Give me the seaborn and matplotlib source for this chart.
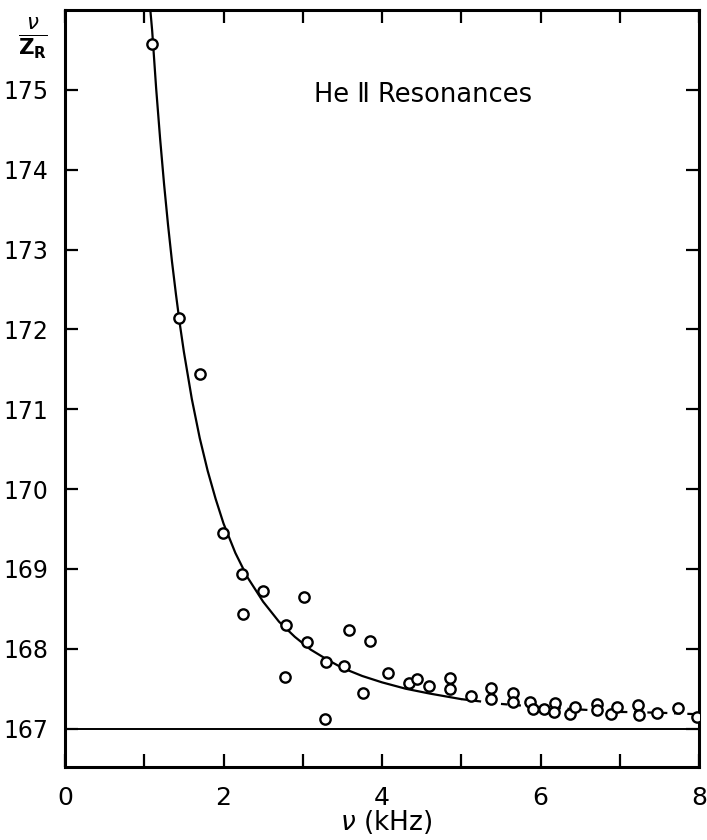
import matplotlib
matplotlib.use("Agg")
import matplotlib.pyplot as plt
import seaborn as sns
import pandas as pd

# measured resonance points (frequency kHz, nu/Z_R)
freq_khz = [1.10, 1.44, 1.70, 1.99, 2.23, 2.25, 2.50, 2.79, 2.78, 3.01, 3.05, 3.29, 3.28,
            3.52, 3.58, 3.76, 3.85, 4.07, 4.34, 4.44, 4.59, 4.86, 4.86, 5.12, 5.38, 5.37,
            5.65, 5.65, 5.87, 5.91, 6.04, 6.18, 6.17, 6.37, 6.44, 6.71, 6.71, 6.89, 6.97,
            7.23, 7.24, 7.47, 7.73, 7.97]
ratio = [175.58, 172.14, 171.44, 169.45, 168.94, 168.43, 168.73, 168.30, 167.65, 168.65,
         168.09, 167.83, 167.12, 167.78, 168.23, 167.45, 168.10, 167.70, 167.57, 167.62,
         167.54, 167.64, 167.50, 167.41, 167.51, 167.37, 167.45, 167.33, 167.34, 167.25,
         167.25, 167.32, 167.21, 167.18, 167.27, 167.31, 167.23, 167.18, 167.27, 167.30,
         167.17, 167.19, 167.26, 167.15]

# theoretical curve: solid part and dashed continuation
curve_x = [1.05, 1.10, 1.15, 1.20, 1.25, 1.30, 1.35, 1.40, 1.45, 1.50, 1.60, 1.70, 1.80,
           1.90, 2.00, 2.15, 2.30, 2.50, 2.70, 2.90, 3.10, 3.30, 3.50, 3.75, 4.00, 4.30,
           4.60, 5.00]
curve_y = [176.30, 175.74, 175.02, 174.39, 173.82, 173.31, 172.85, 172.44, 172.06, 171.72,
           171.13, 170.64, 170.23, 169.88, 169.57, 169.20, 168.90, 168.59, 168.34, 168.15,
           167.99, 167.87, 167.76, 167.66, 167.58, 167.50, 167.44, 167.37]
dash_x = [5.00, 5.50, 6.00, 6.50, 7.00, 7.50, 8.00]
dash_y = [167.37, 167.31, 167.27, 167.24, 167.21, 167.20, 167.18]

baseline = 167.0
x_ticks = [0, 2, 4, 6, 8]
x_minor = [1, 3, 5, 7]
y_ticks = [167, 168, 169, 170, 171, 172, 173, 174, 175]

sns.set_style("ticks")
plt.rcParams["font.family"] = ["DejaVu Sans"]
plt.rcParams["text.color"] = "black"

fig = plt.figure(figsize=(7.07, 8.4), dpi=100)
ax = fig.add_axes([65 / 707, 73 / 840, (699 - 65) / 707, (767 - 10) / 840])

pts = pd.DataFrame({"f": freq_khz, "r": ratio})
cur = pd.DataFrame({"f": curve_x, "r": curve_y})
dsh = pd.DataFrame({"f": dash_x, "r": dash_y})

sns.lineplot(data=cur, x="f", y="r", ax=ax, color="black", linewidth=1.6, sort=False, zorder=2)
sns.lineplot(data=dsh, x="f", y="r", ax=ax, color="black", linewidth=1.6, sort=False,
             linestyle=(0, (3, 3)), zorder=2)
ax.axhline(baseline, color="black", linewidth=1.4, zorder=1)
sns.scatterplot(data=pts, x="f", y="r", ax=ax, marker="o", s=55, facecolor="white",
                edgecolor="black", linewidth=1.7, zorder=3)

ax.set_xlim(0, 8)
ax.set_ylim(166.52, 176.0)
ax.set_xticks(x_ticks)
ax.set_xticks(x_minor, minor=True)
ax.set_yticks(y_ticks)
ax.set_xticklabels([str(v) for v in x_ticks], fontsize=18, color="black")
ax.set_yticklabels([str(v) for v in y_ticks], fontsize=17, color="black")
ax.tick_params(axis="both", which="both", direction="in", length=9.5, width=1.6,
               top=True, right=True, color="black")
ax.tick_params(axis="y", which="both", pad=12)
ax.tick_params(axis="x", which="both", pad=14)
for s in ax.spines.values():
    s.set_linewidth(2.2)
    s.set_color("black")
    s.set_visible(True)
ax.set_xlabel("")
ax.set_ylabel("")

fig.text(386 / 707, 1 - 822 / 840, r"$\nu$ (kHz)", ha="center", va="center", fontsize=19)
fig.text(33 / 707, 1 - 38 / 840, r"$\frac{\nu}{\mathbf{Z_R}}$", ha="center", va="center",
         fontsize=22)
ax.text(4.52, 174.93, "He \u2161 Resonances", ha="center", va="center", fontsize=18.5)

fig.savefig("out.png", dpi=100)
